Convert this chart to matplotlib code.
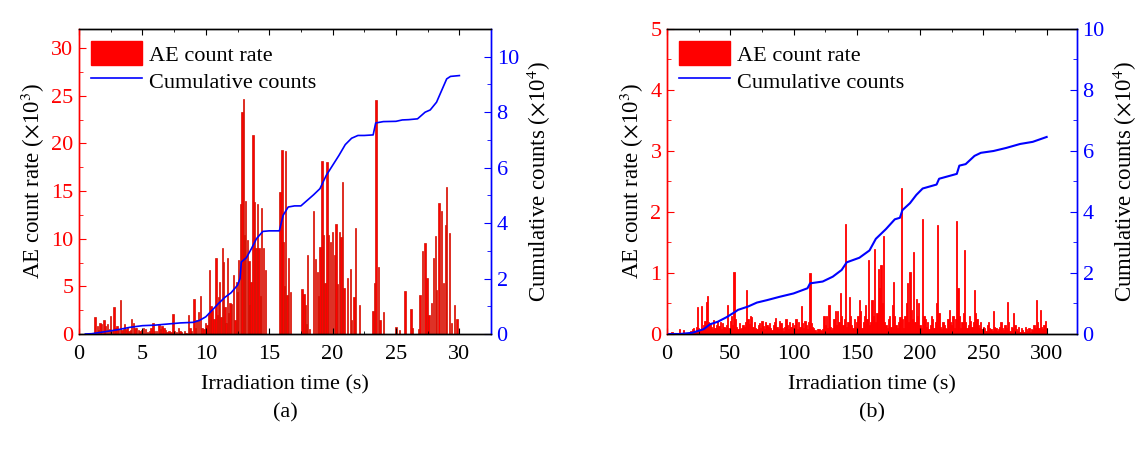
import matplotlib
matplotlib.use("Agg")
import matplotlib.pyplot as plt
from matplotlib.ticker import MultipleLocator
from matplotlib.patches import Patch
from matplotlib.lines import Line2D

plt.rcParams["font.family"] = ["Liberation Serif", "DejaVu Serif"]
plt.rcParams["mathtext.fontset"] = "stix"

# ---- panel (a): 30 s irradiation, AE count rate (x10^3) per 0.1 s bin ----
time_a = [1.26, 1.45, 1.55, 1.66, 1.79, 1.97, 2.1, 2.26, 2.4, 2.5, 2.65, 2.76, 2.9, 3.0, 3.1,
          3.26, 3.4, 3.5, 3.58, 3.7, 3.8, 3.95, 4.05, 4.16, 4.29, 4.4, 4.55, 4.7, 4.8, 4.95,
          5.1, 5.25, 5.4, 5.55, 5.68, 5.82, 5.95, 6.1, 6.3, 6.45, 6.55, 6.7, 6.8, 6.95, 7.1,
          7.25, 7.4, 7.55, 7.7, 7.84, 7.95, 8.1, 8.3, 8.45, 8.63, 8.75, 8.85, 9.08, 9.2, 9.25,
          9.4, 9.57, 9.7, 9.85, 9.99, 10.1, 10.2, 10.3, 10.4, 10.5, 10.65, 10.8, 10.9, 11.0, 11.1,
          11.2, 11.3, 11.4, 11.5, 11.6, 11.7, 11.8, 11.9, 12.05, 12.2, 12.3, 12.4, 12.5, 12.6, 12.75,
          12.86, 12.95, 13.03, 13.15, 13.27, 13.4, 13.5, 13.56, 13.73, 13.85, 13.97, 14.1, 14.2, 14.3, 14.4,
          14.55, 14.7, 15.86, 16.0, 16.1, 16.2, 16.3, 16.4, 16.5, 16.7, 17.6, 17.75, 17.85, 17.95, 18.04,
          18.2, 18.5, 18.65, 18.8, 18.9, 19.0, 19.15, 19.27, 19.4, 19.55, 19.7, 19.85, 20.0, 20.15, 20.27,
          20.4, 20.55, 20.65, 20.77, 20.9, 21.2, 21.4, 21.5, 21.7, 21.8, 22.1, 23.18, 23.3, 23.42, 23.6,
          23.75, 24.0, 25.0, 25.3, 25.7, 26.2, 26.3, 26.8, 26.9, 27.07, 27.3, 27.45, 27.6, 27.8, 27.96,
          28.1, 28.2, 28.4, 28.6, 28.76, 28.9, 29.0, 29.2, 29.4, 29.6, 29.8]
rate_a = [1.8, 0.8, 0.4, 1.2, 1.1, 1.5, 0.8, 1.1, 0.5, 1.9, 0.4, 2.8, 0.6, 0.8, 0.5,
          3.6, 0.4, 0.5, 1.0, 0.5, 0.7, 0.3, 0.4, 1.6, 1.2, 0.6, 0.6, 0.4, 0.3, 0.4,
          0.6, 0.5, 0.2, 0.3, 0.6, 1.2, 0.3, 0.3, 0.9, 0.5, 0.8, 0.6, 0.4, 0.2, 0.3,
          0.2, 2.1, 0.3, 0.2, 0.6, 0.3, 0.2, 0.3, 0.1, 2.0, 0.6, 0.3, 3.7, 0.6, 1.5,
          2.3, 4.0, 0.6, 0.5, 1.2, 0.9, 2.2, 6.7, 2.9, 2.5, 1.6, 8.0, 2.0, 3.9, 5.5,
          1.8, 9.0, 7.6, 2.8, 1.2, 8.0, 2.2, 3.2, 3.1, 6.2, 1.5, 5.5, 4.4, 7.8, 13.6,
          23.3, 24.7, 10.4, 14.0, 9.9, 7.7, 3.0, 5.5, 20.9, 13.9, 9.0, 13.6, 9.0, 4.0, 13.2,
          9.0, 6.7, 14.9, 19.3, 9.7, 5.0, 19.2, 4.1, 8.0, 4.4, 4.7, 4.2, 3.0, 1.0, 8.3,
          0.5, 12.9, 7.9, 6.5, 4.0, 9.1, 18.2, 10.4, 5.3, 18.0, 10.4, 9.7, 10.7, 8.3, 11.5,
          5.2, 10.7, 10.2, 15.9, 4.8, 5.9, 6.8, 1.5, 3.9, 11.1, 3.0, 2.4, 5.4, 24.6, 7.0,
          1.5, 2.3, 0.7, 0.4, 4.5, 2.6, 0.6, 0.5, 4.1, 8.7, 9.5, 5.9, 2.0, 3.3, 8.0,
          10.3, 4.6, 13.7, 12.9, 5.3, 11.4, 15.4, 10.6, 1.2, 3.0, 1.6]

# cumulative counts (x10^4)
cum_time_a = [0.5, 1.0, 2.0, 3.0, 4.0, 5.0, 6.0, 7.0, 8.0, 9.0, 9.5, 10.0, 10.5, 11.0, 11.5,
              12.0, 12.5, 12.7, 12.8, 13.2, 13.6, 14.0, 14.5, 15.0, 15.8, 16.1, 16.5, 17.0, 17.5,
              18.0, 18.5, 19.0, 19.5, 20.0, 20.5, 21.0, 21.5, 22.0, 22.5, 23.2, 23.4, 24.0, 25.0,
              25.5, 26.0, 26.7, 27.3, 27.7, 28.2, 28.6, 29.0, 29.3, 30.0]
cum_a = [0.0, 0.01, 0.08, 0.15, 0.24, 0.30, 0.32, 0.36, 0.40, 0.42, 0.49, 0.62, 0.86, 1.10, 1.32,
         1.49, 1.76, 2.0, 2.6, 2.75, 3.08, 3.44, 3.70, 3.72, 3.72, 4.28, 4.58, 4.62, 4.62,
         4.82, 5.02, 5.24, 5.72, 6.08, 6.44, 6.83, 7.06, 7.16, 7.16, 7.18, 7.61, 7.66, 7.67,
         7.72, 7.73, 7.76, 8.00, 8.08, 8.36, 8.78, 9.20, 9.29, 9.32]

# ---- panel (b): 300 s irradiation, AE count rate (x10^3) per 1 s bin ----
time_b = list(range(1, 301))
rate_b = [0, 0, 0, 0.04, 0, 0, 0, 0, 0, 0.09, 0, 0, 0.06, 0, 0, 0, 0, 0.03, 0.05, 0.08,
          0.1, 0.05, 0.12, 0.44, 0.1, 0.06, 0.46, 0.08, 0.15, 0.21, 0.52, 0.63, 0.2, 0.17, 0.12, 0.08, 0.23, 0.1, 0.15, 0.22,
          0.13, 0.2, 0.09, 0.18, 0.12, 0.1, 0.14, 0.47, 0.1, 0.22, 0.3, 0.15, 1.02, 0.25, 0.12, 0.09, 0.18, 0.08, 0.1, 0.14,
          0.12, 0.2, 0.72, 0.25, 0.16, 0.3, 0.28, 0.12, 0.2, 0.1, 0.08, 0.15, 0.18, 0.1, 0.22, 0.13, 0.09, 0.2, 0.15, 0.11,
          0.18, 0.1, 0.06, 0.14, 0.2, 0.26, 0.12, 0.08, 0.22, 0.18, 0.1, 0.05, 0.12, 0.24, 0.15, 0.09, 0.2, 0.12, 0.18, 0.1,
          0.14, 0.24, 0.08, 0.2, 0.12, 0.46, 0.18, 0.1, 0.22, 0.15, 0.08, 0.2, 1.0, 0.18, 0.12, 0.1, 0.06, 0.03, 0.09, 0.08,
          0.06, 0.05, 0.08, 0.3, 0.15, 0.3, 0.1, 0.47, 0.12, 0.06, 0.1, 0.25, 0.38, 0.15, 0.37, 0.2, 0.68, 0.3, 0.15, 0.25,
          1.81, 0.12, 0.2, 0.6, 0.3, 0.15, 0.1, 0.25, 0.12, 0.2, 0.3, 0.56, 0.38, 0.1, 0.2, 0.3, 0.48, 0.25, 1.21, 0.15,
          0.2, 0.55, 0.3, 1.39, 0.2, 0.35, 1.07, 0.75, 1.13, 0.5, 1.6, 0.2, 0.15, 0.1, 0.25, 0.3, 0.12, 0.48, 0.85, 0.3,
          0.15, 0.1, 0.2, 0.28, 2.39, 0.25, 0.1, 0.3, 0.5, 0.83, 0.2, 1.02, 0.4, 0.25, 1.35, 0.2, 0.57, 0.3, 0.5, 0.15,
          0.1, 1.89, 0.3, 0.25, 0.12, 0.2, 0.08, 0.15, 0.3, 0.25, 0.1, 0.2, 0.5, 1.79, 0.35, 0.12, 0.08, 0.2, 0.15, 0.1,
          0.08, 0.25, 0.4, 0.2, 0.15, 0.3, 0.1, 0.25, 1.86, 0.75, 0.3, 0.1, 0.2, 0.35, 1.37, 0.2, 0.1, 0.15, 0.3, 0.22,
          0.12, 0.2, 0.72, 0.35, 0.25, 0.15, 0.1, 0.2, 0.08, 0.12, 0.1, 0.05, 0.15, 0.2, 0.1, 0.08, 0.05, 0.38, 0.12, 0.1,
          0.05, 0.08, 0.12, 0.2, 0.1, 0.06, 0.15, 0.1, 0.52, 0.2, 0.05, 0.12, 0.1, 0.35, 0.15, 0.08, 0.05, 0.12, 0.04, 0.1,
          0.06, 0.04, 0.12, 0.08, 0.05, 0.1, 0.03, 0.08, 0.06, 0.15, 0.1, 0.55, 0.2, 0.1, 0.4, 0.12, 0.08, 0.15, 0.22, 0.1]

cum_time_b = [0, 10, 20, 29, 34, 40, 47, 54, 56, 64, 71, 79, 89, 100, 111, 113, 123, 131, 138,
              142, 152, 160, 165, 173, 180, 184, 186, 192, 197, 202, 213, 215, 229, 231, 236,
              243, 248, 258, 268, 279, 289, 300]
cum_b = [0.0, 0.0, 0.04, 0.16, 0.32, 0.40, 0.55, 0.73, 0.79, 0.90, 1.03, 1.11, 1.22, 1.33, 1.50,
         1.66, 1.72, 1.88, 2.10, 2.35, 2.50, 2.74, 3.12, 3.44, 3.76, 3.81, 4.06, 4.29, 4.56,
         4.77, 4.90, 5.09, 5.25, 5.52, 5.57, 5.84, 5.94, 6.00, 6.10, 6.23, 6.30, 6.46]

RED = "#ff0000"
BLUE = "#0000ff"
FS = 16
FS_Y = 16.5

fig = plt.figure(figsize=(11.42, 4.53), dpi=100)
ax_a = fig.add_axes([0.0692, 0.2627, 0.3608, 0.6733])
ax_b = fig.add_axes([0.5841, 0.2627, 0.3590, 0.6733])


def style(ax, ax2, xlim, xmaj, ylim, ymaj, y2lim, y2maj):
    ax.set_xlim(*xlim)
    ax.set_ylim(*ylim)
    ax2.set_ylim(*y2lim)
    ax.xaxis.set_major_locator(MultipleLocator(xmaj))
    ax.xaxis.set_minor_locator(MultipleLocator(xmaj / 2))
    ax.yaxis.set_major_locator(MultipleLocator(ymaj))
    ax.yaxis.set_minor_locator(MultipleLocator(ymaj / 2))
    ax2.yaxis.set_major_locator(MultipleLocator(y2maj))
    ax2.yaxis.set_minor_locator(MultipleLocator(y2maj / 2))
    ax.tick_params(axis="x", which="both", direction="in", top=True, labelsize=FS, pad=8)
    ax.tick_params(axis="x", which="major", length=4)
    ax.tick_params(axis="x", which="minor", length=2)
    ax.tick_params(axis="y", which="both", direction="in", colors=RED, labelsize=FS, pad=4)
    ax.tick_params(axis="y", which="major", length=5)
    ax.tick_params(axis="y", which="minor", length=3)
    ax2.tick_params(axis="y", which="both", direction="in", colors=BLUE, labelsize=FS, pad=4)
    ax2.tick_params(axis="y", which="major", length=5)
    ax2.tick_params(axis="y", which="minor", length=3)
    for a in (ax, ax2):
        a.spines["left"].set_color(RED)
        a.spines["right"].set_color(BLUE)
        a.spines["top"].set_color("black")
        a.spines["bottom"].set_color("black")
        for s in a.spines.values():
            s.set_linewidth(1.0)
    ax.set_xlabel("Irradiation time (s)", fontsize=FS, labelpad=8)
    ax.set_ylabel(r"AE count rate ($\times$10$^3$)", fontsize=FS_Y, labelpad=3)
    ax2.set_ylabel(r"Cumulative counts ($\times$10$^4$)", fontsize=FS_Y, labelpad=4)
    handles = [Patch(facecolor=RED, edgecolor=RED),
               Line2D([], [], color=BLUE, lw=1.2)]
    ax2.legend(handles, ["AE count rate", "Cumulative counts"], loc="upper left",
               frameon=False, fontsize=FS, handlelength=2.3, handleheight=1.3,
               handletextpad=0.3, labelspacing=0.1, borderaxespad=0.15)


# panel (a)
ax_a.bar(time_a, rate_a, width=0.11, color=RED, edgecolor="#d01000", linewidth=0.5)
ax_a2 = ax_a.twinx()
ax_a2.plot(cum_time_a, cum_a, color=BLUE, lw=1.2)
style(ax_a, ax_a2, (0, 32.5), 5, (0, 32), 5, (0, 11), 2)

# panel (b)
ax_b.bar(time_b, rate_b, width=1.0, color=RED, edgecolor=RED, linewidth=0.6)
ax_b2 = ax_b.twinx()
ax_b2.plot(cum_time_b, cum_b, color=BLUE, lw=1.5)
style(ax_b, ax_b2, (0, 324), 50, (0, 5), 1, (0, 10), 2)

fig.text(0.2496, 0.088, "(a)", ha="center", va="center", fontsize=FS)
fig.text(0.7636, 0.088, "(b)", ha="center", va="center", fontsize=FS)

fig.savefig("out.png", dpi=100)
